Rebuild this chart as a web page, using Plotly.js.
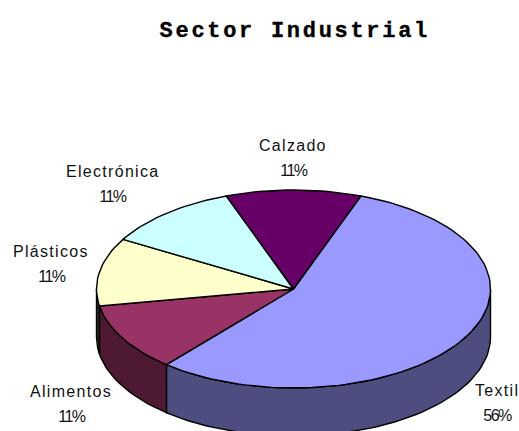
<!DOCTYPE html>
<html><head><meta charset="utf-8">
<script src="https://cdn.plot.ly/plotly-3.0.1.min.js"></script>
<style>
html,body{margin:0;padding:0;background:#fff;overflow:hidden}
#chart{width:519px;height:431px}
.annotation-text{letter-spacing:1.3px}
.annotation[data-index="1"] .annotation-text,
.annotation[data-index="3"] .annotation-text,
.annotation[data-index="5"] .annotation-text,
.annotation[data-index="7"] .annotation-text,
.annotation[data-index="9"] .annotation-text{letter-spacing:-1.6px}
.gtitle{letter-spacing:2.7px;stroke:#000;stroke-width:0.35px}
</style></head><body><div id="chart"></div>
<script>
const categories = ["Textil","Alimentos","Plásticos","Electrónica","Calzado"];
const values = [55.6,11.1,11.1,11.1,11.1];
const topColors = ["#9999FF","#993366","#FFFFCC","#CCFFFF","#660066"];
const sideColors = ["#4D4D80","#4D1933","#2A2A20","#668080","#330033"];

// Oblique-pie geometry (pixel-mapped axes)
const cx = 293.5, cy = 289, rx = 197, ry = 99, depth = 48, startAngle = 20;
const labelPos = {Textil:[497,390],Alimentos:[71,391],"Plásticos":[51,251],"Electrónica":[112,171],Calzado:[293,145]};
const lineGap = 25;

const pt = (deg, dy) => {
  const r = deg * Math.PI / 180;
  return [cx + rx * Math.sin(r), cy - ry * Math.cos(r) + dy];
};
const arc = (a, b, dy) => {
  const out = [], n = Math.max(2, Math.ceil(Math.abs(b - a) / 2));
  for (let i = 0; i <= n; i++) out.push(pt(a + (b - a) * i / n, dy));
  return out;
};
const total = values.reduce((s, v) => s + v, 0);
let acc = startAngle;
const spans = values.map(v => { const a = acc; acc += v / total * 360; return [a, acc]; });

const poly = (pts, color, name) => ({
  type: "scatter", mode: "lines", name,
  x: pts.map(p => p[0]), y: pts.map(p => p[1]),
  fill: "toself", fillcolor: color,
  line: {color: "#000", width: 1.4, shape: "linear"},
  hoverinfo: "name", showlegend: false
});

const traces = [];
spans.forEach(([a, b], i) => {
  const s = Math.max(a, 90), e = Math.min(b, 270);
  if (e > s) {
    const pts = arc(s, e, 0).concat(arc(e, s, depth));
    pts.push(pts[0]);
    traces.push(poly(pts, sideColors[i], categories[i]));
  }
});
spans.forEach(([a, b], i) => {
  const pts = [[cx, cy]].concat(arc(a, b, 0));
  pts.push([cx, cy]);
  traces.push(poly(pts, topColors[i], categories[i]));
});

const annotations = [];
categories.forEach((c, i) => {
  const [x, y] = labelPos[c];
  const base = {xref: "x", yref: "y", x, showarrow: false, xanchor: "center", yanchor: "middle",
    font: {family: "Liberation Sans, Arial, sans-serif", size: 16, color: "#111"}};
  annotations.push(Object.assign({}, base, {y, text: c}));
  annotations.push(Object.assign({}, base, {y: y + lineGap, text: Math.round(values[i] / total * 100) + "%"}));
});

Plotly.newPlot("chart", traces, {
  width: 519, height: 431,
  margin: {l: 0, r: 0, t: 0, b: 0},
  paper_bgcolor: "#fff", plot_bgcolor: "#fff",
  showlegend: false,
  title: {text: "<b>Sector Industrial</b>", x: 0.568, xanchor: "center", y: 0.932, yanchor: "middle",
    font: {family: "Liberation Mono, Courier New, monospace", size: 22, color: "#000"}},
  xaxis: {range: [0, 519], visible: false, fixedrange: true},
  yaxis: {range: [431, 0], visible: false, fixedrange: true},
  annotations
}, {displayModeBar: false, staticPlot: true});
</script></body></html>
